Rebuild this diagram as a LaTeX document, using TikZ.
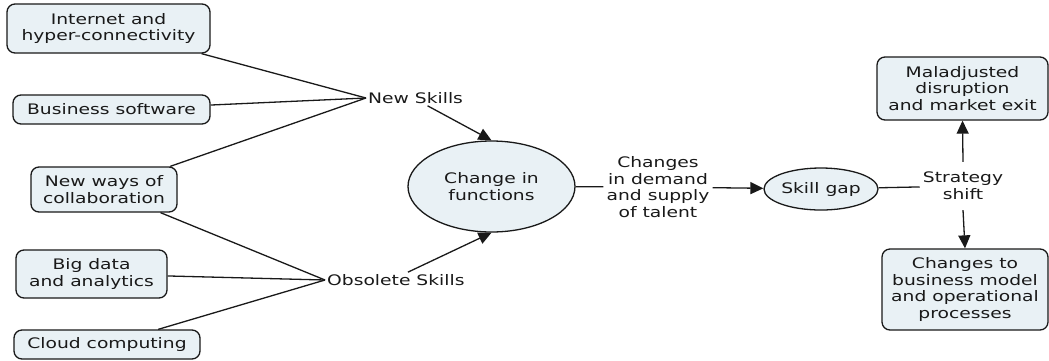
\documentclass[tikz,border=0pt]{standalone}
\usepackage{fontspec}
\setmainfont[FakeStretch=1.29]{DejaVu Sans}
\usetikzlibrary{arrows.meta,shapes.geometric}
\definecolor{boxfill}{RGB}{233,241,245}
\definecolor{ink}{RGB}{25,25,25}
\begin{document}
\begin{tikzpicture}[x=1pt,y=-1pt,
  every node/.style={font=\fontsize{14.5}{16.7}\selectfont, text=ink},
  conbox/.style={draw=ink, line width=1.3pt, rounded corners=8pt, fill=boxfill,
    align=center, inner sep=0pt},
  conoval/.style={draw=ink, line width=1.3pt, ellipse, fill=boxfill,
    align=center, inner sep=0pt},
  phrase/.style={align=center, inner sep=2pt},
  link/.style={draw=ink, line width=1.3pt},
  arr/.style={link, -{Triangle[length=13pt,width=12pt]}}]
\useasboundingbox (0,0) rectangle (1049,360);

% source concepts
\node[conbox, minimum width=203pt, minimum height=49pt] (inet) at (108.5,28.5) {Internet and\\hyper-connectivity};
\node[conbox, minimum width=197pt, minimum height=29pt] (bsw) at (111.5,109.5) {Business software};
\node[conbox, minimum width=146pt, minimum height=45pt] (nwc) at (104,189.5) {New ways of\\collaboration};
\node[conbox, minimum width=151pt, minimum height=48pt] (bda) at (91.5,274) {Big data\\and analytics};
\node[conbox, minimum width=186pt, minimum height=29pt] (cld) at (107,344.5) {Cloud computing};

% linking phrases
\node[phrase, anchor=west] (nsk) at (366,98) {New Skills};
\node[phrase, anchor=west] (osk) at (325,280) {Obsolete Skills};

% central concepts
\node[conoval, minimum width=167pt, minimum height=91pt] (cf) at (491.5,186.5) {Change in\\functions};
\node[phrase, inner sep=3pt] (chg) at (658,187) {Changes\\in demand\\and supply\\of talent};
\node[conoval, minimum width=114pt, minimum height=42pt] (sg) at (821,189) {Skill gap};
\node[phrase, inner xsep=3pt, inner ysep=10pt] (ssh) at (963,186) {Strategy\\shift};

% outcomes
\node[conbox, minimum width=171pt, minimum height=63pt] (mal) at (962.5,88.5) {Maladjusted\\disruption\\and market exit};
\node[conbox, minimum width=166pt, minimum height=81pt] (ctb) at (965,289.5) {Changes to\\business model\\and operational\\processes};

% connectors
\draw[link] (inet) -- (nsk.west);
\draw[link] (bsw) -- (nsk.west);
\draw[link] (nwc) -- (nsk.west);
\draw[link] (nwc) -- (osk.west);
\draw[link] (bda) -- (osk.west);
\draw[link] (cld) -- (osk.west);
\draw[arr] ([xshift=12pt]nsk.south) -- (cf.north);
\draw[arr] ([xshift=12pt]osk.north) -- (cf.south);
\draw[link] (cf) -- (chg);
\draw[arr] (chg) -- (sg);
\draw[link] (sg) -- (ssh);
\draw[arr] (ssh.north) -- (mal.south);
\draw[arr] (ssh.south) -- (ctb.north);
\end{tikzpicture}
\end{document}
